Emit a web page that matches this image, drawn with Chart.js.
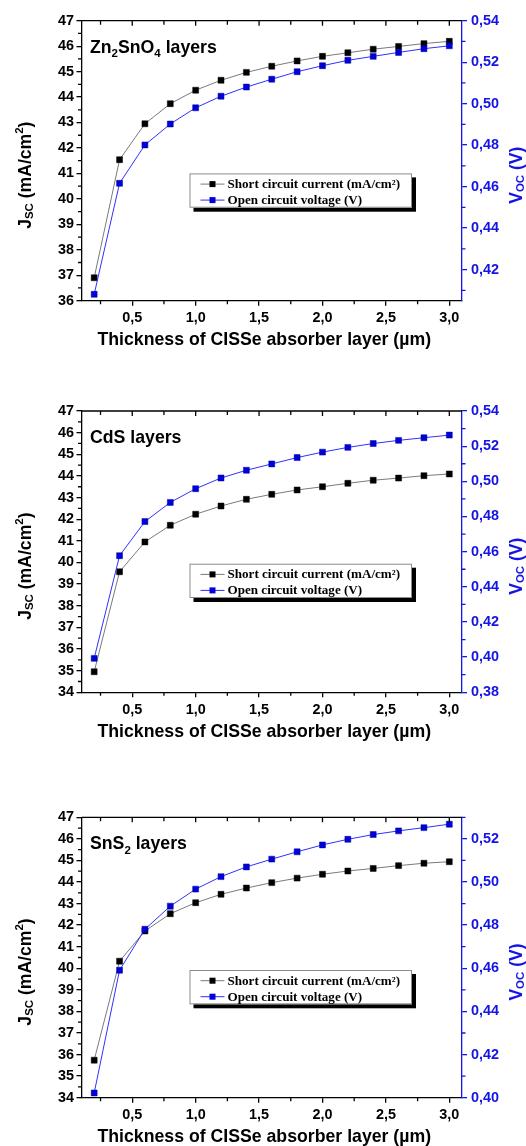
<!DOCTYPE html>
<html>
<head>
<meta charset="utf-8">
<script src="https://cdn.jsdelivr.net/npm/chart.js@4/dist/chart.umd.min.js"></script>
<style>
  html, body { margin: 0; padding: 0; background: #fff; }
  body { width: 526px; height: 1146px; position: relative; overflow: hidden; }
  canvas { position: absolute; left: 0; }
</style>
</head>
<body>
<canvas id="c1" width="526" height="360" style="top:0px"></canvas>
<canvas id="c2" width="526" height="375" style="top:385px"></canvas>
<canvas id="c3" width="526" height="346" style="top:800px"></canvas>
<script>
// CISSe absorber thickness (µm)
const thickness = [0.2, 0.4, 0.6, 0.8, 1.0, 1.2, 1.4, 1.6, 1.8, 2.0, 2.2, 2.4, 2.6, 2.8, 3.0];

// Zn2SnO4 buffer
const jscZn = [36.90, 41.54, 42.95, 43.74, 44.27, 44.66, 44.97, 45.21, 45.42, 45.60, 45.74, 45.88, 45.99, 46.10, 46.19];
const vocZn = [0.4081, 0.4616, 0.4801, 0.4902, 0.4980, 0.5036, 0.5080, 0.5118, 0.5154, 0.5183, 0.5209, 0.5228, 0.5247, 0.5265, 0.5279];

// CdS buffer
const jscCdS = [34.95, 39.57, 40.95, 41.72, 42.23, 42.61, 42.92, 43.15, 43.35, 43.50, 43.66, 43.80, 43.90, 44.01, 44.09];
const vocCdS = [0.3993, 0.4577, 0.4771, 0.4880, 0.4958, 0.5019, 0.5063, 0.5099, 0.5135, 0.5166, 0.5193, 0.5215, 0.5233, 0.5248, 0.5263];

// SnS2 buffer
const jscSnS2 = [35.74, 40.33, 41.73, 42.53, 43.04, 43.43, 43.72, 43.97, 44.18, 44.36, 44.51, 44.63, 44.76, 44.87, 44.94];
const vocSnS2 = [0.4022, 0.4591, 0.4781, 0.4888, 0.4967, 0.5025, 0.5070, 0.5106, 0.5140, 0.5172, 0.5198, 0.5220, 0.5237, 0.5252, 0.5268];

// tick values
const xTicks = [0.5, 1.0, 1.5, 2.0, 2.5, 3.0];
const jscTicksA = [36, 37, 38, 39, 40, 41, 42, 43, 44, 45, 46, 47];
const jscTicksB = [34, 35, 36, 37, 38, 39, 40, 41, 42, 43, 44, 45, 46, 47];
const vocTicksA = [0.42, 0.44, 0.46, 0.48, 0.50, 0.52, 0.54];
const vocTicksB = [0.38, 0.40, 0.42, 0.44, 0.46, 0.48, 0.50, 0.52, 0.54];
const vocTicksC = [0.40, 0.42, 0.44, 0.46, 0.48, 0.50, 0.52];

// legend / title text
const seriesNames = ['Short circuit current (mA/cm²)', 'Open circuit voltage (V)'];
const xTitle = 'Thickness of CISSe absorber layer (µm)';
const yTitleRuns = [{t: 'J'}, {t: 'SC', k: 'sub'}, {t: ' (mA/cm'}, {t: '2', k: 'sup'}, {t: ')'}];
const y1TitleRuns = [{t: 'V'}, {t: 'OC', k: 'sub'}, {t: ' (V)'}];
const labelZn = [{t: 'Zn'}, {t: '2', k: 'sub'}, {t: 'SnO'}, {t: '4', k: 'sub'}, {t: ' layers'}];
const labelCdS = [{t: 'CdS layers'}];
const labelSnS2 = [{t: 'SnS'}, {t: '2', k: 'sub'}, {t: ' layers'}];

const SANS = '"Liberation Sans", Arial, sans-serif';
const SERIF = '"Liberation Serif", "Times New Roman", serif';
const BLUE = '#1414e6';
const BLUE_PT = '#0000d8';
const BLUE_LINE = '#3030ff';
const GREY_LINE = '#7a7a7a';
const PLOT_LEFT = 81.5, PLOT_RIGHT = 462, W = 526;

function fmt(v, d) { return v.toFixed(d).replace('.', ','); }

function runWidth(ctx, runs, size) {
  let w = 0;
  for (const r of runs) {
    ctx.font = 'bold ' + (r.k ? size * 0.65 : size) + 'px ' + SANS;
    w += ctx.measureText(r.t).width;
  }
  return w;
}
function drawRuns(ctx, runs, size, x0, y0, subDrop) {
  let x = x0;
  for (const r of runs) {
    const s = r.k ? size * 0.65 : size;
    ctx.font = 'bold ' + s + 'px ' + SANS;
    const dy = r.k === 'sub' ? size * subDrop : (r.k === 'sup' ? -size * 0.42 : 0);
    ctx.fillText(r.t, x, y0 + dy);
    x += ctx.measureText(r.t).width;
  }
}

// axis frame extras, minor ticks, titles, in-plot label and framed legend
const decor = {
  id: 'decor',
  afterDraw(chart, args, o) {
    const ctx = chart.ctx;
    const a = chart.chartArea;
    const sx = chart.scales.x, sy = chart.scales.y, sy1 = chart.scales.y1;
    ctx.save();
    ctx.lineWidth = 1.3;
    // top frame line with inward ticks
    ctx.strokeStyle = '#000';
    ctx.beginPath();
    ctx.moveTo(a.left, a.top); ctx.lineTo(a.right, a.top);
    for (let v = 0.25; v <= sx.max; v += 0.25) {
      const px = sx.getPixelForValue(v);
      const len = Math.abs(v * 2 - Math.round(v * 2)) < 1e-6 ? 5 : 4;
      ctx.moveTo(px, a.top); ctx.lineTo(px, a.top + len);
    }
    ctx.stroke();
    // bottom minor ticks
    ctx.beginPath();
    for (let v = 0.25; v <= sx.max; v += 0.5) {
      const px = sx.getPixelForValue(v);
      ctx.moveTo(px, a.bottom); ctx.lineTo(px, a.bottom + 3.5);
    }
    // left minor ticks
    for (let v = Math.ceil(sy.min) + 0.5; v < sy.max; v += 1) {
      const py = sy.getPixelForValue(v);
      ctx.moveTo(a.left, py); ctx.lineTo(a.left - 3.5, py);
    }
    ctx.stroke();
    // right minor ticks
    ctx.strokeStyle = BLUE;
    ctx.beginPath();
    for (let k = Math.ceil(sy1.min * 100 - 1e-6); k <= Math.floor(sy1.max * 100 + 1e-6); k++) {
      if (k % 2 === 0) continue;
      const py = sy1.getPixelForValue(k / 100);
      ctx.moveTo(a.right, py); ctx.lineTo(a.right + 3.5, py);
    }
    ctx.stroke();

    // x title
    ctx.fillStyle = '#000';
    ctx.textAlign = 'center';
    ctx.textBaseline = 'alphabetic';
    ctx.font = 'bold 17.7px ' + SANS;
    ctx.fillText(xTitle, (a.left + a.right) / 2 - 7.5, a.bottom + 44.5);
    ctx.textAlign = 'left';

    // left title
    const ts = 17.6;
    const cy = (a.top + a.bottom) / 2 + 14.5;
    ctx.save();
    ctx.translate(30.5, cy);
    ctx.rotate(-Math.PI / 2);
    drawRuns(ctx, yTitleRuns, ts, -runWidth(ctx, yTitleRuns, ts) / 2, 0, 0.15);
    ctx.restore();
    // right title
    ctx.save();
    ctx.fillStyle = BLUE;
    ctx.translate(522, cy);
    ctx.rotate(-Math.PI / 2);
    drawRuns(ctx, y1TitleRuns, ts, -runWidth(ctx, y1TitleRuns, ts) / 2, 0, 0.12);
    ctx.restore();

    // layer label
    ctx.fillStyle = '#000';
    drawRuns(ctx, o.label, 17.7, a.left + 8.5, a.top + 32, 0.27);

    // legend box with drop shadow
    const L = {x: a.left + 108, y: a.top + 152.7, w: 222.5, h: 34.3};
    ctx.fillStyle = '#000';
    ctx.fillRect(L.x + 4, L.y + 4, L.w, L.h);
    ctx.fillStyle = '#fff';
    ctx.fillRect(L.x, L.y, L.w, L.h);
    ctx.strokeStyle = '#8c8c8c';
    ctx.lineWidth = 1;
    ctx.strokeRect(L.x + 0.5, L.y + 0.5, L.w - 1, L.h - 1);
    chart.data.datasets.forEach((ds, i) => {
      const ry = L.y + 10.7 + i * 16;
      ctx.strokeStyle = ds.borderColor;
      ctx.lineWidth = 1;
      ctx.beginPath();
      ctx.moveTo(L.x + 11, ry); ctx.lineTo(L.x + 35, ry);
      ctx.stroke();
      ctx.fillStyle = ds.pointBackgroundColor;
      ctx.fillRect(L.x + 20, ry - 3, 6, 6);
      ctx.fillStyle = '#000';
      ctx.font = 'bold 13.1px ' + SERIF;
      ctx.textBaseline = 'middle';
      ctx.fillText(ds.label, L.x + 38, ry + 0.5);
      ctx.textBaseline = 'alphabetic';
    });
    ctx.restore();
  }
};

function makeChart(id, jsc, voc, jscTicks, vocTicks, jscRange, vocRange, top, bottom, label) {
  const canvas = document.getElementById(id);
  const H = canvas.height;
  const tickFont = {family: SANS, size: 14.4, weight: 'bold'};
  return new Chart(canvas, {
    type: 'line',
    data: {
      datasets: [
        {
          label: seriesNames[0],
          data: thickness.map((t, i) => ({x: t, y: jsc[i]})),
          yAxisID: 'y',
          borderColor: GREY_LINE,
          borderWidth: 1,
          pointStyle: 'rect',
          pointRadius: 4.2,
          pointBackgroundColor: '#000',
          pointBorderColor: '#000',
          pointBorderWidth: 0.5,
          tension: 0,
          order: 2
        },
        {
          label: seriesNames[1],
          data: thickness.map((t, i) => ({x: t, y: voc[i]})),
          yAxisID: 'y1',
          borderColor: BLUE_LINE,
          borderWidth: 1,
          pointStyle: 'rect',
          pointRadius: 4.2,
          pointBackgroundColor: BLUE_PT,
          pointBorderColor: '#0000a0',
          pointBorderWidth: 0.5,
          tension: 0,
          order: 1
        }
      ]
    },
    options: {
      responsive: false,
      animation: false,
      devicePixelRatio: 1,
      layout: {padding: {top: top, left: 0, right: 0, bottom: 0}},
      plugins: {legend: {display: false}, tooltip: {enabled: false}, decor: {label: label}},
      scales: {
        x: {
          type: 'linear', min: 0.1, max: 3.1,
          afterBuildTicks: s => { s.ticks = xTicks.map(v => ({value: v})); },
          afterFit: s => { s.height = H - bottom; },
          grid: {display: true, drawOnChartArea: false, drawTicks: true, tickLength: 5, color: '#000', lineWidth: 1.3},
          border: {display: true, color: '#000', width: 1.3},
          ticks: {font: tickFont, color: '#000', padding: 4, maxRotation: 0, autoSkip: false, callback: v => fmt(v, 1)}
        },
        y: {
          type: 'linear', position: 'left', min: jscRange[0], max: jscRange[1],
          afterBuildTicks: s => { s.ticks = jscTicks.map(v => ({value: v})); },
          afterFit: s => { s.width = PLOT_LEFT; },
          grid: {display: true, drawOnChartArea: false, drawTicks: true, tickLength: 5, color: '#000', lineWidth: 1.3},
          border: {display: true, color: '#000', width: 1.3},
          ticks: {font: tickFont, color: '#000', padding: 2.5, autoSkip: false, callback: v => String(v)}
        },
        y1: {
          type: 'linear', position: 'right', min: vocRange[0], max: vocRange[1],
          afterBuildTicks: s => { s.ticks = vocTicks.map(v => ({value: v})); },
          afterFit: s => { s.width = W - PLOT_RIGHT; },
          grid: {display: true, drawOnChartArea: false, drawTicks: true, tickLength: 5, color: BLUE, lineWidth: 1.3},
          border: {display: true, color: BLUE, width: 1.3},
          ticks: {font: tickFont, color: BLUE, padding: 4, autoSkip: false, callback: v => fmt(v, 2)}
        }
      }
    },
    plugins: [decor]
  });
}

makeChart('c1', jscZn, vocZn, jscTicksA, vocTicksA, [36, 47], [0.405, 0.54], 20.7, 300.7, labelZn);
makeChart('c2', jscCdS, vocCdS, jscTicksB, vocTicksB, [34, 47], [0.38, 0.54], 26, 307.3, labelCdS);
makeChart('c3', jscSnS2, vocSnS2, jscTicksB, vocTicksC, [34, 47], [0.40, 0.53], 17.3, 297.7, labelSnS2);
</script>
</body>
</html>
